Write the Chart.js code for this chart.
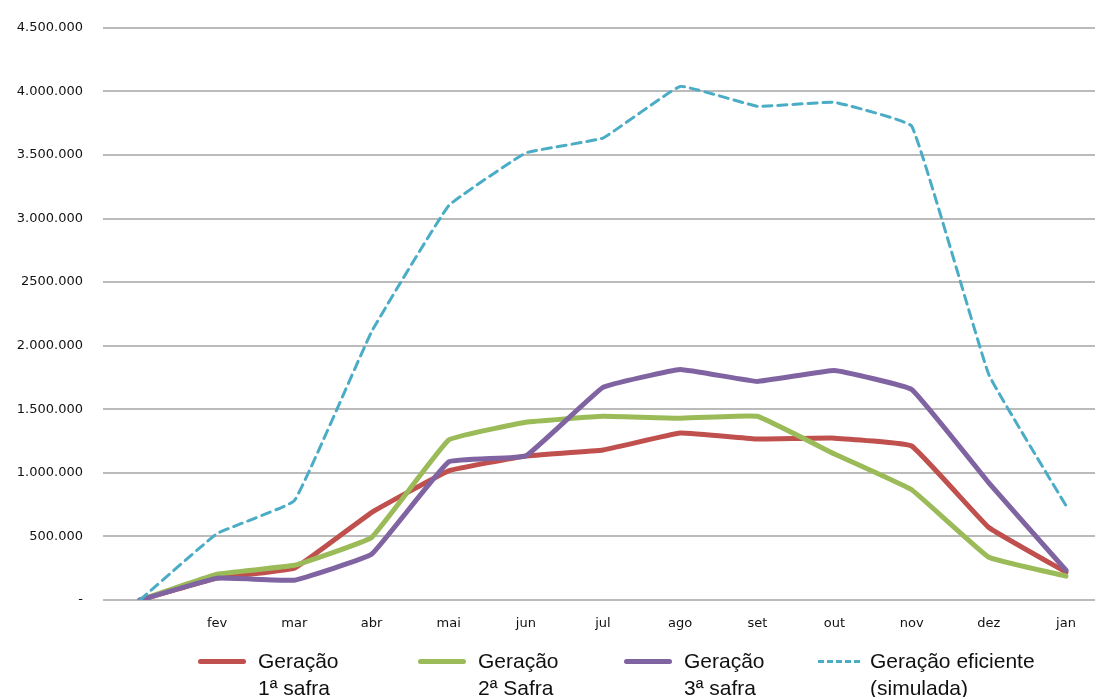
<!DOCTYPE html>
<html>
<head>
<meta charset="utf-8">
<script src="https://cdn.jsdelivr.net/npm/chart.js@4"></script>
<style>
  body { margin: 0; background: #fff; overflow: hidden; }
  #wrap { position: relative; width: 1095px; height: 697px; }
  .legend-item { position: absolute; top: 647px; display: flex; align-items: flex-start; }
  .swatch { width: 48px; margin-top: 12px; margin-right: 12px; }
  .legend-text { font-family: "Liberation Sans", Arial, sans-serif; font-size: 21px; line-height: 27px; color: #111; }
</style>
</head>
<body>
<div id="wrap">
  <canvas id="geracaoChart" width="1095" height="697"></canvas>
  <div id="legend"></div>
</div>
<script>
// Month labels (first point has no label)
const months = ["", "fev", "mar", "abr", "mai", "jun", "jul", "ago", "set", "out", "nov", "dez", "jan"];

// Y axis tick labels, as printed in the original
const yTickLabels = ["-", "500.000", "1.000.000", "1.500.000", "2.000.000", "2500.000",
  "3.000.000", "3.500.000", "4.000.000", "4.500.000"];

// Series values
const safra1 = [0, 172000, 250000, 688000, 1016000, 1133000, 1180000, 1313000, 1266000, 1273000, 1211000, 570000, 219000];
const safra2 = [0, 203000, 273000, 492000, 1258000, 1398000, 1445000, 1430000, 1445000, 1148000, 867000, 336000, 188000];
const safra3 = [0, 172000, 156000, 359000, 1086000, 1133000, 1672000, 1813000, 1719000, 1805000, 1656000, 922000, 234000];
const eficiente = [0, 523000, 781000, 2109000, 3101000, 3516000, 3633000, 4039000, 3883000, 3914000, 3727000, 1773000, 742000];

// Legend entries
const legendItems = [
  { lines: ["Geração", "1ª safra"], color: "#C0504D", dashed: false, left: 198 },
  { lines: ["Geração", "2ª Safra"], color: "#9BBB59", dashed: false, left: 418 },
  { lines: ["Geração", "3ª safra"], color: "#8064A2", dashed: false, left: 624 },
  { lines: ["Geração eficiente", "(simulada)"], color: "#4BACC6", dashed: true, left: 818 },
];

// Turn a list of values into {x, y} points on the linear x scale
function toPoints(values) {
  return values.map((v, i) => ({ x: i, y: v }));
}

function buildLegend() {
  const legend = document.getElementById("legend");
  legendItems.forEach((item) => {
    const div = document.createElement("div");
    div.className = "legend-item";
    div.style.left = item.left + "px";

    const swatch = document.createElement("div");
    swatch.className = "swatch";
    if (item.dashed) {
      swatch.style.width = "42px";
      swatch.style.borderTop = "3px dashed " + item.color;
      swatch.style.marginTop = "13px";
      swatch.style.marginRight = "10px";
    } else {
      swatch.style.height = "5px";
      swatch.style.borderRadius = "3px";
      swatch.style.background = item.color;
    }

    const text = document.createElement("div");
    text.className = "legend-text";
    text.innerHTML = item.lines.join("<br>");

    div.appendChild(swatch);
    div.appendChild(text);
    legend.appendChild(div);
  });
}

const tickFont = { family: "'DejaVu Sans', sans-serif", size: 13 };

const ctx = document.getElementById("geracaoChart").getContext("2d");
new Chart(ctx, {
  type: "line",
  data: {
    datasets: [
      { label: "Geração 1ª safra", data: toPoints(safra1), borderColor: "#C0504D", borderWidth: 5, order: 4 },
      { label: "Geração 2ª Safra", data: toPoints(safra2), borderColor: "#9BBB59", borderWidth: 5, order: 3 },
      { label: "Geração 3ª safra", data: toPoints(safra3), borderColor: "#8064A2", borderWidth: 5, order: 2 },
      { label: "Geração eficiente (simulada)", data: toPoints(eficiente), borderColor: "#4BACC6",
        borderWidth: 3, borderDash: [9, 6], order: 1 },
    ],
  },
  options: {
    responsive: false,
    animation: false,
    devicePixelRatio: 1,
    layout: { padding: { top: 24, right: 0, left: 0, bottom: 0 } },
    elements: {
      point: { radius: 0 },
      line: { tension: 0.08, borderCapStyle: "round", borderJoinStyle: "round", fill: false },
    },
    plugins: {
      legend: { display: false },
      tooltip: { enabled: false },
    },
    scales: {
      x: {
        type: "linear",
        min: -0.4795,
        max: 12.376,
        afterBuildTicks: (axis) => {
          axis.ticks = months.map((_, i) => ({ value: i }));
        },
        afterFit: (scale) => { scale.height = 97; },
        grid: { display: false, drawTicks: false },
        border: { display: false },
        ticks: {
          autoSkip: false,
          maxRotation: 0,
          padding: 16,
          color: "#111",
          font: tickFont,
          callback: (value) => months[value],
        },
      },
      y: {
        min: 0,
        max: 4500000,
        afterFit: (scale) => { scale.width = 103; },
        grid: { color: "#BBBBBB", lineWidth: 2, drawTicks: false },
        border: { display: false },
        ticks: {
          stepSize: 500000,
          padding: 20,
          color: "#111",
          font: tickFont,
          callback: (value) => yTickLabels[Math.round(value / 500000)],
        },
      },
    },
  },
});

buildLegend();
</script>
</body>
</html>
